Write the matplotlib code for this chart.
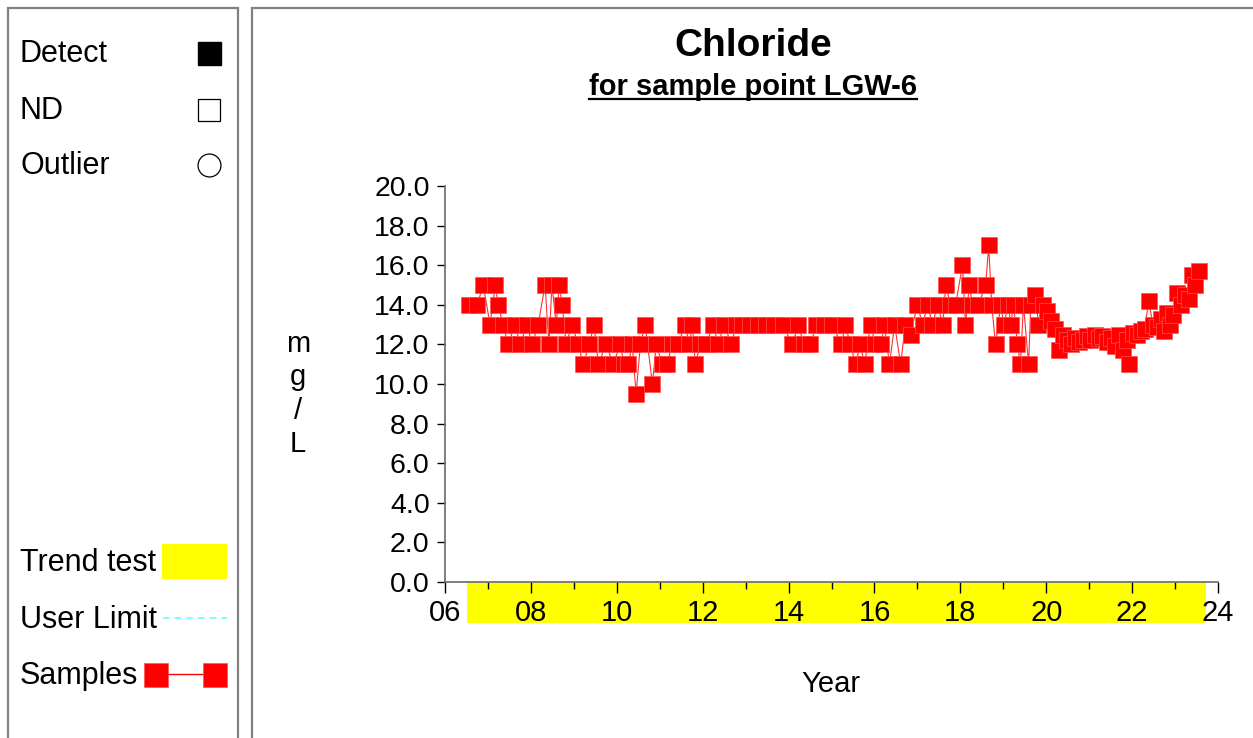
import matplotlib
matplotlib.use("Agg")
import matplotlib.pyplot as plt
from matplotlib.patches import Rectangle
from matplotlib.lines import Line2D
import matplotlib.transforms as mtransforms

plt.rcParams['font.family'] = ['Liberation Sans', 'DejaVu Sans']

# ---- data (decimal year, mg/L) ----
years = [2006.56, 2006.75, 2006.89, 2007.05, 2007.17, 2007.24, 2007.35, 2007.47, 2007.63, 2007.75,
         2007.91, 2008.03, 2008.17, 2008.33, 2008.42, 2008.49, 2008.59, 2008.66, 2008.73, 2008.82,
         2008.96, 2009.10, 2009.22, 2009.36, 2009.47, 2009.57, 2009.75, 2009.92, 2010.08, 2010.17,
         2010.27, 2010.36, 2010.45, 2010.55, 2010.66, 2010.83, 2010.92, 2011.06, 2011.17, 2011.29,
         2011.43, 2011.59, 2011.69, 2011.76, 2011.83, 2011.94, 2012.08, 2012.25, 2012.36, 2012.50,
         2012.67, 2012.78, 2012.92, 2013.11, 2013.30, 2013.48, 2013.67, 2013.86, 2014.09, 2014.23,
         2014.35, 2014.51, 2014.65, 2014.83, 2015.02, 2015.23, 2015.32, 2015.44, 2015.56, 2015.67,
         2015.77, 2015.91, 2016.02, 2016.16, 2016.23, 2016.35, 2016.47, 2016.61, 2016.72, 2016.84,
         2017.00, 2017.12, 2017.24, 2017.35, 2017.47, 2017.59, 2017.66, 2017.77, 2017.89, 2018.05,
         2018.12, 2018.21, 2018.28, 2018.42, 2018.59, 2018.66, 2018.73, 2018.82, 2018.94, 2019.01,
         2019.12, 2019.17, 2019.24, 2019.33, 2019.40, 2019.47, 2019.59, 2019.64, 2019.75, 2019.82,
         2019.92, 2020.01, 2020.10, 2020.20, 2020.29, 2020.38, 2020.48, 2020.57, 2020.66, 2020.76,
         2020.85, 2020.94, 2021.03, 2021.13, 2021.22, 2021.31, 2021.41, 2021.50, 2021.59, 2021.69,
         2021.78, 2021.87, 2021.92, 2022.01, 2022.11, 2022.20, 2022.29, 2022.39, 2022.48, 2022.57,
         2022.67, 2022.74, 2022.81, 2022.88, 2022.95, 2023.04, 2023.13, 2023.23, 2023.32, 2023.39,
         2023.46, 2023.55]
chloride = [14, 14, 15, 13, 15, 14, 13, 12, 13, 12,
            13, 12, 13, 15, 12, 15, 13, 15, 14, 12,
            13, 12, 11, 12, 13, 11, 12, 11, 12, 11,
            11, 12, 9.5, 12, 13, 10, 12, 11, 11, 12,
            12, 13, 12, 13, 11, 12, 12, 13, 12, 13,
            12, 13, 13, 13, 13, 13, 13, 13, 12, 13,
            12, 12, 13, 13, 13, 12, 13, 12, 11, 12,
            11, 13, 12, 12, 13, 11, 13, 11, 13, 12.5,
            14, 13, 14, 13, 14, 13, 15, 14, 14, 16,
            13, 15, 14, 14, 15, 17, 14, 12, 14, 13,
            14, 13, 14, 12, 11, 14, 11, 14, 14.5, 13,
            14, 13.7, 13.2, 12.8, 11.7, 12.5, 12.2, 12.0, 12.3, 12.1,
            12.2, 12.4, 12.2, 12.5, 12.3, 12.4, 12.1, 12.3, 11.9, 12.5,
            11.7, 12.2, 11.0, 12.6, 12.5, 12.7, 12.8, 14.2, 13.0, 12.9,
            13.3, 12.7, 13.6, 13.0, 13.5, 14.6, 14.0, 14.5, 14.3, 15.5,
            15.0, 15.7]

trend_start, trend_end = 2006.52, 2023.72
x_ticks = list(range(2006, 2025, 2))
x_ticklabels = ['06', '08', '10', '12', '14', '16', '18', '20', '22', '24']
y_ticks = [0, 2, 4, 6, 8, 10, 12, 14, 16, 18, 20]

W, H = 1253, 738
fig = plt.figure(figsize=(W / 100, H / 100), dpi=100)

def fx(px):
    return px / W

def fy(py):
    return 1 - py / H

# panels
border = '#808080'
fig.patches.append(Rectangle((fx(8), fy(745)), fx(238) - fx(8), fy(8) - fy(745),
                             transform=fig.transFigure, fill=False, edgecolor=border, lw=1.6))
fig.patches.append(Rectangle((fx(252), fy(745)), fx(1262) - fx(252), fy(8) - fy(745),
                             transform=fig.transFigure, fill=False, edgecolor=border, lw=1.6))

# main axes
ax = fig.add_axes([fx(445), fy(582), fx(1218) - fx(445), fy(186) - fy(582)])
ax.set_xlim(2006, 2024)
ax.set_ylim(0, 20)
for s in ['top', 'right']:
    ax.spines[s].set_visible(False)
ax.spines['left'].set_color('#6a6a6a')
ax.spines['bottom'].set_color('#6a6a6a')
ax.spines['left'].set_linewidth(1.2)
ax.spines['bottom'].set_linewidth(1.2)

ax.set_yticks(y_ticks)
ax.set_yticklabels([f'{v:.1f}' for v in y_ticks], fontsize=20.5)
ax.set_xticks(x_ticks)
ax.set_xticklabels(x_ticklabels, fontsize=21)
ax.set_xticks(list(range(2007, 2024, 2)), minor=True)
ax.tick_params(axis='y', direction='out', length=6, width=1, pad=5, color='black')
ax.tick_params(axis='x', which='major', direction='out', length=8, width=1, pad=4.5, color='black')
ax.tick_params(axis='x', which='minor', direction='out', length=5, width=1, color='black')

# trend-test band under the x axis
trans = mtransforms.blended_transform_factory(ax.transData, ax.transAxes)
band_h = 41 / 396
ax.add_patch(Rectangle((trend_start, -band_h), trend_end - trend_start, band_h,
                       transform=trans, facecolor='#ffff00', edgecolor='none',
                       clip_on=False, zorder=0.5))

# samples
ax.plot(years, chloride, color='#ff3030', lw=0.8, zorder=2)
ax.plot(years, chloride, linestyle='none', marker='s', markersize=12,
        markerfacecolor='#ff0000', markeredgecolor='#ff5050', markeredgewidth=0.5, zorder=3)

# titles and labels
fig.text(fx(753), fy(46), 'Chloride', ha='center', va='center', fontsize=28, fontweight='bold')
sub = fig.text(fx(753), fy(87), 'for sample point LGW-6', ha='center', va='center',
               fontsize=21, fontweight='bold')
fig.canvas.draw()
bb = sub.get_window_extent().transformed(fig.transFigure.inverted())
fig.add_artist(Line2D([bb.x0, bb.x1], [fy(99), fy(99)], transform=fig.transFigure,
                      color='black', lw=1.6))
fig.text(fx(298), fy(394), 'm\ng\n/\nL', ha='center', va='center', fontsize=21,
         linespacing=1.25)
fig.text(fx(831), fy(684), 'Year', ha='center', va='center', fontsize=21)

# legend panel
lfs = 22
fig.text(fx(20), fy(54), 'Detect', ha='left', va='center', fontsize=lfs)
fig.patches.append(Rectangle((fx(198), fy(65)), fx(23), fy(42) - fy(65), transform=fig.transFigure,
                             facecolor='black', edgecolor='black', lw=1))
fig.text(fx(20), fy(111), 'ND', ha='left', va='center', fontsize=lfs)
fig.patches.append(Rectangle((fx(198), fy(121)), fx(22), fy(99) - fy(121), transform=fig.transFigure,
                             facecolor='white', edgecolor='black', lw=0.9))
fig.text(fx(20), fy(166), 'Outlier', ha='left', va='center', fontsize=lfs)
fig.add_artist(Line2D([fx(209)], [fy(165)], transform=fig.transFigure, marker='o', markersize=16.5,
                      markerfacecolor='white', markeredgecolor='black', markeredgewidth=0.9))

fig.text(fx(20), fy(563), 'Trend test', ha='left', va='center', fontsize=lfs)
fig.patches.append(Rectangle((fx(162), fy(579)), fx(227) - fx(162), fy(544) - fy(579),
                             transform=fig.transFigure, facecolor='#ffff00', edgecolor='none'))
fig.text(fx(20), fy(620), 'User Limit', ha='left', va='center', fontsize=lfs)
fig.add_artist(Line2D([fx(163), fx(227)], [fy(618), fy(618)], transform=fig.transFigure,
                      color='#66ffff', lw=1.2, linestyle=(0, (4, 3))))
fig.text(fx(20), fy(676), 'Samples', ha='left', va='center', fontsize=lfs)
fig.add_artist(Line2D([fx(156), fx(215)], [fy(674), fy(674)], transform=fig.transFigure,
                      color='#ff0000', lw=1))
for cx in (156, 215):
    fig.add_artist(Line2D([fx(cx)], [fy(675)], transform=fig.transFigure, marker='s', markersize=17,
                          markerfacecolor='#ff0000', markeredgecolor='#ff5050', markeredgewidth=0.5,
                          linestyle='none'))

fig.savefig('out.png', dpi=100)
